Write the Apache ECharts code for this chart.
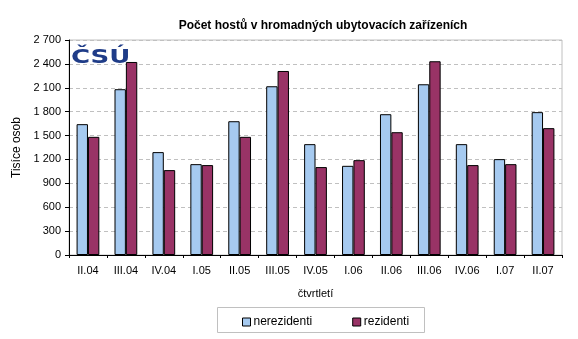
<!DOCTYPE html>
<html><head><meta charset="utf-8">
<script src="https://cdn.jsdelivr.net/npm/echarts@6/dist/echarts.min.js"></script>
<style>html,body{margin:0;padding:0;background:#fff}#c{width:578px;height:339px}</style>
</head><body><div id="c"></div>
<script>
const categories = ['II.04','III.04','IV.04','I.05','II.05','III.05','IV.05','I.06','II.06','III.06','IV.06','I.07','II.07'];
const nerezidenti = [1643, 2082, 1292, 1141, 1680, 2119, 1392, 1120, 1768, 2144, 1392, 1204, 1794];
const rezidenti = [1484, 2424, 1066, 1129, 1484, 2311, 1104, 1191, 1542, 2433, 1129, 1141, 1593];
const seriesNames = ['nerezidenti', 'rezidenti'];
const yTicks = [0, 300, 600, 900, 1200, 1500, 1800, 2100, 2400, 2700];

const FONT = '"Liberation Sans", Arial, sans-serif';
const chart = echarts.init(document.getElementById('c'), null, {renderer: 'canvas'});
chart.setOption({
  animation: false,
  backgroundColor: '#fff',
  title: {
    text: 'Počet hostů v hromadných ubytovacích zařízeních',
    left: 318, top: 15, textAlign: 'center',
    textStyle: {fontFamily: FONT, fontSize: 12, fontWeight: 'bold', color: '#000'}
  },
  grid: {left: 69, right: 16, top: 40, bottom: 84, show: true, borderColor: '#c0c0c0', borderWidth: 1},
  legend: {
    left: 237, top: 311, itemWidth: 8, itemHeight: 8, itemGap: 40, icon: 'rect',
    data: seriesNames,
    textStyle: {fontFamily: FONT, fontSize: 12, color: '#000', padding: [0, 0, 0, -2]},
    itemStyle: {borderColor: '#000', borderWidth: 1}
  },
  xAxis: {
    type: 'category', data: categories,
    name: 'čtvrtletí', nameLocation: 'middle', nameGap: 33,
    nameTextStyle: {fontFamily: FONT, fontSize: 11, color: '#000'},
    axisLine: {lineStyle: {color: '#000', width: 1}},
    axisTick: {show: true, length: 3, lineStyle: {color: '#000'}},
    axisLabel: {fontFamily: FONT, fontSize: 11, color: '#000', margin: 10, interval: 0}
  },
  yAxis: {
    type: 'value', min: 0, max: 2700, interval: 300,
    name: 'Tisíce osob', nameLocation: 'middle', nameGap: 45, nameRotate: 90,
    nameTextStyle: {fontFamily: FONT, fontSize: 12, color: '#000'},
    axisLine: {show: true, lineStyle: {color: '#000', width: 1}},
    axisTick: {show: true, length: 4, lineStyle: {color: '#000'}},
    axisLabel: {fontFamily: FONT, fontSize: 11, color: '#000', margin: 8,
      formatter: v => String(v).replace(/\B(?=(\d{3})+(?!\d))/g, ' ')},
    splitLine: {show: true, lineStyle: {color: '#c0c0c0', type: [4, 3], width: 1}}
  },
  graphic: [
    {type: 'rect', left: 215, top: 305, shape: {width: 207, height: 25},
      style: {fill: 'none', stroke: '#c0c0c0', lineWidth: 1}, z: 1},
    {type: 'text', left: 71, top: 48, scaleX: 1.3,
      style: {text: 'ČSÚ', fill: '#1f3c88', font: '900 20px "DejaVu Sans", sans-serif'}, z: 10}
  ],
  series: [
    {name: seriesNames[0], type: 'bar', data: nerezidenti, barGap: '0%', barCategoryGap: '40%',
      itemStyle: {color: '#a6caf0', borderColor: '#000', borderWidth: 1}},
    {name: seriesNames[1], type: 'bar', data: rezidenti, barGap: '0%', barCategoryGap: '40%',
      itemStyle: {color: '#993366', borderColor: '#000', borderWidth: 1}}
  ]
});
</script></body></html>
